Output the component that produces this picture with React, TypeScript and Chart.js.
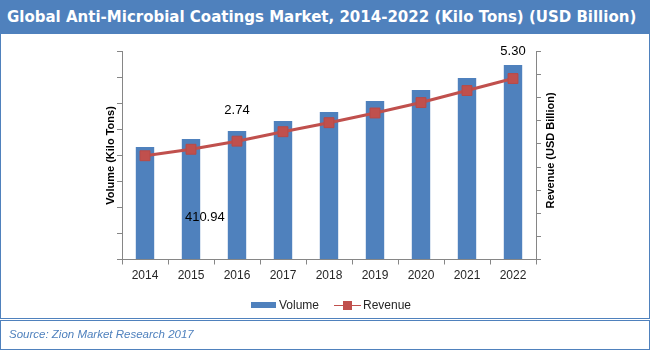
import React, { useEffect, useRef } from "react";
import { Chart, registerables } from "chart.js";

Chart.register(...registerables);

const years = ["2014", "2015", "2016", "2017", "2018", "2019", "2020", "2021", "2022"];
const volume = [433, 463, 494, 533, 567, 610, 652, 698, 748];
const revenue = [4.49, 4.77, 5.12, 5.53, 5.92, 6.34, 6.79, 7.31, 7.83];
const noteTexts = ["410.94", "2.74", "5.30"];
const noteIndex = [1.3, 2, 8];
const noteValue = [161, 572, 800];

const BLUE = "#4F81BD";
const RED = "#C0504D";
const AXIS = "#868686";
const FONT = '"Liberation Sans", Arial, sans-serif';

const overlayPlugin = {
  id: "overlay",
  afterDatasetsDraw(chart: any) {
    const { ctx, chartArea, scales } = chart;
    const xs = scales.x;
    const ys = scales.y;
    ctx.save();
    ctx.fillStyle = "#000";
    ctx.textAlign = "center";
    ctx.textBaseline = "middle";
    ctx.font = `13px ${FONT}`;
    noteTexts.forEach((t, i) => {
      ctx.fillText(t, xs.getPixelForValue(noteIndex[i]), ys.getPixelForValue(noteValue[i]));
    });
    ctx.font = `bold 11px ${FONT}`;
    const midY = (chartArea.top + chartArea.bottom) / 2;
    ctx.save();
    ctx.translate(chartArea.left - 11, midY);
    ctx.rotate(-Math.PI / 2);
    ctx.fillText("Volume (Kilo Tons)", 0, 0);
    ctx.restore();
    ctx.save();
    ctx.translate(chartArea.right + 15, midY - 5);
    ctx.rotate(-Math.PI / 2);
    ctx.fillText("Revenue (USD Billion)", 0, 0);
    ctx.restore();
    ctx.restore();
  },
};

export default function App() {
  const ref = useRef<HTMLCanvasElement>(null);

  useEffect(() => {
    document.body.style.margin = "0";
    const chart = new Chart(ref.current as HTMLCanvasElement, {
      type: "bar",
      data: {
        labels: years,
        datasets: [
          {
            type: "line",
            label: "Revenue",
            data: revenue,
            yAxisID: "y1",
            borderColor: RED,
            backgroundColor: RED,
            borderWidth: 3,
            pointStyle: "rect",
            pointRadius: 7,
            pointBackgroundColor: RED,
            pointBorderColor: "#B84A47",
            pointBorderWidth: 1,
            tension: 0,
            order: 0,
          } as any,
          {
            type: "bar",
            label: "Volume",
            data: volume,
            yAxisID: "y",
            backgroundColor: BLUE,
            categoryPercentage: 1,
            barPercentage: 0.4,
            order: 1,
          },
        ],
      },
      options: {
        responsive: false,
        animation: false,
        devicePixelRatio: 1,
        layout: { padding: { top: 51.5, bottom: 0, left: 0, right: 0 } },
        plugins: { legend: { display: false }, tooltip: { enabled: false } },
        scales: {
          x: {
            grid: { display: true, drawOnChartArea: false, drawTicks: true, tickLength: 5, color: AXIS, offset: true },
            border: { display: true, color: AXIS, width: 1 },
            ticks: { color: "#262626", font: { family: FONT, size: 12 }, padding: 4 },
            afterFit: (s: any) => { s.height = 90.5; },
          },
          y: {
            position: "left",
            min: 0,
            max: 800,
            ticks: { display: false, stepSize: 100 },
            grid: { display: true, drawOnChartArea: false, drawTicks: true, tickLength: 5, color: AXIS },
            border: { display: true, color: AXIS, width: 1 },
            afterFit: (s: any) => { s.width = 122; },
          },
          y1: {
            position: "right",
            min: 0,
            max: 9,
            ticks: { display: false, stepSize: 1 },
            grid: { display: true, drawOnChartArea: false, drawTicks: true, tickLength: 5, color: AXIS },
            border: { display: true, color: AXIS, width: 1 },
            afterFit: (s: any) => { s.width = 114; },
          },
        },
      },
      plugins: [overlayPlugin],
    });
    return () => chart.destroy();
  }, []);

  return (
    <div style={{ position: "relative", width: 650, height: 350, background: "#fff", overflow: "hidden" }}>
      <canvas ref={ref} width={650} height={350} style={{ position: "absolute", left: 0, top: 0 }} />
      <div style={{ position: "absolute", left: 0, top: 0, width: 650, height: 34, background: BLUE, color: "#fff", fontFamily: '"DejaVu Sans", Verdana, sans-serif', fontWeight: "bold", fontSize: 15, lineHeight: "34px", paddingLeft: 7, boxSizing: "border-box", whiteSpace: "nowrap" }}>
        Global Anti-Microbial Coatings Market, 2014-2022 (Kilo Tons) (USD Billion)
      </div>
      <div style={{ position: "absolute", left: 0, top: 34, width: 650, height: 285, border: `1.5px solid ${BLUE}`, borderTop: "none", boxSizing: "border-box", pointerEvents: "none" }} />
      <div style={{ position: "absolute", left: 0, top: 320, width: 650, height: 30, border: `1.5px solid ${BLUE}`, boxSizing: "border-box", color: BLUE, fontFamily: FONT, fontStyle: "italic", fontSize: 11.5, lineHeight: "27px", paddingLeft: 8, whiteSpace: "nowrap" }}>
        Source: Zion Market Research 2017
      </div>
      <div style={{ position: "absolute", left: 0, top: 297, width: 650, height: 16, display: "flex", justifyContent: "center", alignItems: "center", fontFamily: FONT, fontSize: 12, color: "#262626" }}>
        <div style={{ display: "flex", alignItems: "center", marginLeft: 12 }}>
          <span style={{ display: "inline-block", width: 25, height: 6, background: BLUE, marginRight: 3 }} />
          <span>Volume</span>
        </div>
        <div style={{ display: "flex", alignItems: "center", marginLeft: 15 }}>
          <span style={{ position: "relative", display: "inline-block", width: 27, height: 9, marginRight: 2 }}>
            <span style={{ position: "absolute", left: 0, top: 4, width: 27, height: 1.5, background: RED }} />
            <span style={{ position: "absolute", left: 9, top: 0, width: 9, height: 9, background: RED }} />
          </span>
          <span>Revenue</span>
        </div>
      </div>
    </div>
  );
}
